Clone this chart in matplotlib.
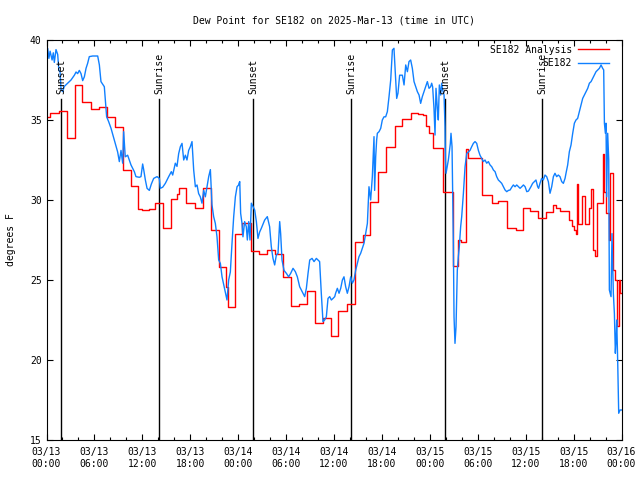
import numpy as np
import matplotlib
matplotlib.use("Agg")
import matplotlib.pyplot as plt

# hours since 2025-03-13 00:00 UTC
analysis_t = [0.0, 0.5, 1.6, 2.53, 3.61, 4.45, 5.57, 6.62, 7.53, 8.58, 9.62, 10.58, 11.42,
              11.96, 12.79, 13.54, 14.55, 15.63, 16.34, 16.63, 17.51, 18.55, 19.59, 20.6,
              21.64, 22.5, 22.7, 23.56, 24.48, 25.57, 26.57, 27.65, 28.57, 29.62, 30.58,
              31.58, 32.62, 33.66, 34.62, 35.67, 36.5, 37.58, 38.58, 39.66, 40.5, 41.5,
              42.55, 43.64, 44.55, 45.6, 46.5, 47.2, 47.5, 47.9, 48.35, 49.6, 50.86, 51.57,
              51.9, 52.53, 52.82, 54.49, 55.74, 56.58, 57.62, 58.79, 59.62, 60.54, 61.5,
              62.55, 63.39, 63.8, 64.35, 65.39, 65.8, 66.1, 66.3, 66.45, 66.55, 67.06,
              67.47, 67.9, 68.2, 68.4, 68.72, 68.9, 69.7, 69.85, 70.06, 70.4, 70.56, 70.98,
              71.23, 71.4, 71.65, 71.8, 72.0]
analysis_v = [35.2, 35.46, 35.56, 33.85, 37.19, 36.1, 35.7, 35.83, 35.2, 34.54, 31.9, 30.9, 29.44,
              29.375, 29.44, 29.83, 28.27, 30.04, 30.375, 30.75, 29.83, 29.52, 30.75, 28.1,
              25.8, 24.58, 23.29, 27.875, 28.58, 26.83, 26.65, 26.875, 26.6, 25.21, 23.4,
              23.48, 24.31, 22.33, 22.65, 21.5, 23.06, 23.48, 27.4, 27.8, 29.85, 31.73,
              33.33, 34.62, 35.06, 35.42, 35.35, 35.3, 34.6, 34.2, 33.23, 30.48, 25.9, 27.5,
              27.4, 33.17, 32.6, 30.3, 29.8, 29.96, 28.23, 28.1, 29.48, 29.33, 28.85,
              29.27, 29.69, 29.48, 29.31, 28.75, 28.4, 28.1, 27.9, 31.0, 28.5, 30.25,
              28.5, 29.48, 30.7, 26.9, 26.5, 29.8, 32.9, 30.5, 29.2, 27.5, 31.67, 25.6,
              25.0, 22.1, 25.0, 24.17, 24.17]

obs_t = [0.0, 0.15, 0.3, 0.45, 0.7, 0.85, 0.98, 1.19, 1.4, 1.55, 1.7, 1.82, 2.02, 2.23, 2.65,
         3.07, 3.49, 3.7, 3.9, 4.11, 4.32, 4.53, 4.74, 4.95, 5.15, 5.36, 5.78, 6.41, 6.62,
         6.82, 7.24, 7.53, 7.78, 8.08, 8.49, 8.91, 9.12, 9.33, 9.54, 9.66, 9.86, 10.16,
         10.58, 11.0, 11.2, 11.62, 11.83, 12.04, 12.17, 12.38, 12.59, 12.88, 13.13, 13.42,
         13.84, 14.13, 14.25, 14.55, 14.88, 15.3, 15.63, 15.8, 16.13, 16.34, 16.55, 16.76,
         16.97, 17.18, 17.39, 17.59, 17.8, 18.01, 18.22, 18.43, 18.64, 18.85, 19.05, 19.26,
         19.47, 19.68, 19.89, 20.1, 20.31, 20.52, 20.72, 20.93, 21.14, 21.35, 21.56, 21.77,
         21.98, 22.19, 22.4, 22.6, 22.81, 23.02, 23.23, 23.44, 23.65, 23.86, 24.06, 24.1,
         24.2, 24.31, 24.48, 24.6, 24.81, 25.02, 25.15, 25.32, 25.48, 25.65, 25.86, 26.07,
         26.28, 26.48, 26.69, 26.9, 27.32, 27.65, 27.94, 28.15, 28.36, 28.57, 28.78, 28.99,
         29.2, 29.32, 29.49, 29.74, 30.03, 30.32, 30.58, 30.87, 31.16, 31.41, 31.7, 32.12,
         32.33, 32.54, 32.75, 32.96, 33.25, 33.5, 33.79, 34.2, 34.41, 34.62, 34.83, 35.04,
         35.25, 35.46, 35.67, 35.88, 36.09, 36.2, 36.42, 36.63, 36.84, 37.05, 37.25, 37.46,
         37.67, 37.88, 38.09, 38.3, 38.5, 38.71, 38.92, 39.13, 39.34, 39.55, 39.76, 39.97,
         40.18, 40.38, 40.59, 40.8, 41.01, 41.09, 41.22, 41.34, 41.43, 41.64, 41.85, 42.05,
         42.26, 42.47, 42.68, 42.89, 43.1, 43.31, 43.51, 43.64, 43.85, 44.01, 44.22, 44.56,
         44.77, 44.98, 45.19, 45.39, 45.6, 45.81, 46.02, 46.23, 46.44, 46.65, 46.85, 47.06,
         47.27, 47.48, 47.69, 47.9, 48.1, 48.23, 48.35, 48.52, 48.65, 48.77, 48.94, 49.06,
         49.19, 49.36, 49.48, 49.61, 49.78, 49.9, 49.95, 50.03, 50.32, 50.57, 50.65, 50.78,
         50.86, 50.94, 51.03, 51.15, 51.28, 51.44, 51.57, 51.69, 51.86, 51.99, 52.2, 52.41,
         52.62, 52.82, 53.03, 53.24, 53.45, 53.66, 53.87, 54.08, 54.28, 54.49, 54.7, 54.91,
         55.12, 55.33, 55.54, 55.75, 55.96, 56.17, 56.37, 56.58, 56.79, 57.0, 57.21, 57.42,
         57.63, 57.84, 58.05, 58.26, 58.46, 58.67, 58.88, 59.09, 59.3, 59.51, 59.72, 59.93,
         60.14, 60.35, 60.66, 60.87, 61.08, 61.29, 61.5, 61.62, 61.79, 62.0, 62.21, 62.42,
         62.63, 62.84, 63.05, 63.26, 63.47, 63.67, 63.88, 64.09, 64.3, 64.51, 64.72, 64.93,
         65.05, 65.26, 65.47, 65.68, 65.89, 66.1, 66.3, 66.51, 66.72, 66.93, 67.14, 67.35,
         67.56, 67.77, 67.98, 68.19, 68.39, 68.6, 68.81, 69.02, 69.23, 69.44, 69.64, 69.77,
         69.86, 69.98, 70.06, 70.14, 70.27, 70.4, 70.48, 70.69, 70.81, 70.98, 71.11, 71.23,
         71.32, 71.4, 71.52, 71.65, 71.82, 72.0]
obs_v = [39.06, 39.48, 38.85, 39.3, 38.75, 39.2, 38.6, 39.4, 39.1, 38.1, 38.0, 36.9, 36.77, 37.1, 37.3,
         37.5, 37.8, 38.0, 37.9, 38.1, 37.9, 37.46, 37.7, 38.23, 38.54, 38.96, 39.0, 39.0, 38.44,
         37.4, 37.08, 35.2, 34.9, 34.48, 33.75, 33.0, 32.4, 33.1, 32.3, 34.27, 32.7, 32.8,
         32.19, 31.77, 31.46, 31.42, 31.46, 32.25, 31.9, 31.25, 30.73, 30.6, 31.0, 31.35,
         31.46, 31.35, 30.73, 30.8, 31.04, 31.46, 31.77, 31.56, 32.3, 32.1, 32.9, 33.33,
         33.54, 32.5, 32.8, 32.5, 33.1, 33.33, 33.65, 31.875, 30.83, 30.94, 30.4, 30.2,
         29.8, 30.6, 30.2, 30.83, 31.46, 31.9, 29.7, 28.96, 28.54, 27.7, 26.25, 26.04,
         25.2, 24.7, 24.17, 23.75, 25.0, 25.5, 27.3, 28.96, 30.2, 30.83, 30.94, 31.04,
         31.15, 29.17, 28.54, 27.7, 28.65, 28.33, 27.5, 28.65, 27.5, 29.8, 29.58, 29.375,
         28.65, 27.6, 28.0, 28.23, 28.75, 28.96, 28.33, 27.08, 26.35, 25.94, 26.56, 26.67,
         28.65, 27.9, 26.25, 25.6, 25.42, 25.2, 25.42, 25.73, 25.52, 25.2, 24.58, 24.17,
         23.96, 24.48, 25.42, 26.25, 26.35, 26.15, 26.35, 26.15, 24.17, 22.4, 22.5, 22.7,
         23.85, 23.96, 23.75, 23.85, 23.96, 24.17, 24.48, 24.17, 24.48, 25.0, 25.2, 24.58,
         24.17, 24.58, 25.2, 24.8, 25.0, 25.6, 26.04, 26.46, 26.67, 26.98, 27.3, 27.9,
         28.54, 30.83, 30.0, 31.46, 33.96, 30.6, 32.7, 33.75, 34.17, 34.27, 34.48, 35.0,
         35.2, 35.2, 35.52, 36.46, 37.5, 39.375, 39.48, 38.33, 36.35, 36.67, 37.8, 37.8,
         37.19, 38.44, 38.02, 38.65, 38.75, 38.23, 37.4, 37.08, 36.77, 36.56, 36.04, 36.46,
         36.77, 37.08, 37.4, 36.98, 37.08, 37.3, 37.08, 35.73, 34.06, 36.98, 35.73, 35.0,
         37.19, 36.56, 37.3, 36.88, 36.56, 34.58, 32.5, 31.67, 32.5, 33.54, 34.17, 33.33,
         30.4, 27.5, 22.7, 21.04, 22.08, 25.6, 26.46, 27.08, 28.33, 28.96, 30.4, 32.08,
         32.9, 33.0, 33.1, 33.33, 33.54, 33.65, 33.54, 33.1, 32.8, 32.6, 32.4, 32.5,
         32.3, 32.4, 32.19, 32.08, 31.875, 31.77, 31.46, 31.25, 31.15, 31.04, 30.83, 30.625,
         30.52, 30.6, 30.625, 30.8, 30.94, 30.83, 30.94, 30.83, 30.73, 30.83, 30.94, 30.83,
         30.52, 30.56, 30.83, 31.04, 31.15, 31.25, 30.83, 30.73, 31.04, 31.35, 31.25, 31.56,
         31.46, 31.15, 30.42, 30.83, 31.46, 31.67, 31.46, 31.56, 31.46, 31.15, 31.04, 31.35,
         31.67, 32.19, 33.02, 33.44, 34.17, 34.8, 35.0, 35.1, 35.52, 35.94, 36.35, 36.56,
         36.77, 36.98, 37.3, 37.4, 37.6, 37.8, 38.02, 38.13, 38.23, 38.44, 38.23, 38.13,
         34.8, 34.17, 34.8, 30.2, 34.17, 32.5, 24.375, 23.96, 27.9, 24.17, 22.9, 20.42,
         21.25, 22.5, 20.0, 16.67, 16.875, 16.875]

sun_t = [1.86, 14.13, 25.9, 38.17, 49.94, 62.09]
sun_lbl = ["Sunset", "Sunrise", "Sunset", "Sunrise", "Sunset", "Sunrise"]

tick_hours = list(range(0, 73, 6))
tick_lbls = ["03/13\n00:00", "03/13\n06:00", "03/13\n12:00", "03/13\n18:00",
             "03/14\n00:00", "03/14\n06:00", "03/14\n12:00", "03/14\n18:00",
             "03/15\n00:00", "03/15\n06:00", "03/15\n12:00", "03/15\n18:00",
             "03/16\n00:00"]

plt.rcParams['font.family'] = ['DejaVu Sans Mono']
plt.rcParams['font.size'] = 7

fig = plt.figure(figsize=(6.4, 4.8), dpi=100)
ax = fig.add_axes([46.5 / 640, 40 / 480, 575 / 640, 400 / 480])

for t, lbl in zip(sun_t, sun_lbl):
    ax.plot([t, t], [15, 36.3], color='black', lw=1.0)
    ax.text(t, 36.6, lbl, rotation=90, ha='center', va='bottom', fontsize=7)

ax.plot(analysis_t, analysis_v, drawstyle='steps-post', color='#ff0000', lw=1.0,
        label='SE182 Analysis')
ax.plot(obs_t, obs_v, color='#1080ff', lw=1.0, label='SE182')

ax.set_xlim(0, 72)
ax.set_ylim(15, 40)
ax.set_xticks(tick_hours)
ax.set_xticklabels(tick_lbls)
ax.set_xticks(range(0, 73, 2), minor=True)
ax.set_yticks(range(15, 41, 5))
ax.tick_params(which='both', direction='in', top=True, right=True, length=4, width=0.8)
ax.tick_params(which='minor', length=2.5)
ax.tick_params(axis='x', pad=5)
ax.set_ylabel('degrees F', labelpad=10)
ax.set_title('Dew Point for SE182 on 2025-Mar-13 (time in UTC)', fontsize=7, pad=12)

ax.legend(loc='upper right', bbox_to_anchor=(0.995, 1.013), frameon=False, markerfirst=False,
          handlelength=3.2, borderaxespad=0.6, labelspacing=0.35, handletextpad=0.6)

fig.savefig('out.png', dpi=100)
